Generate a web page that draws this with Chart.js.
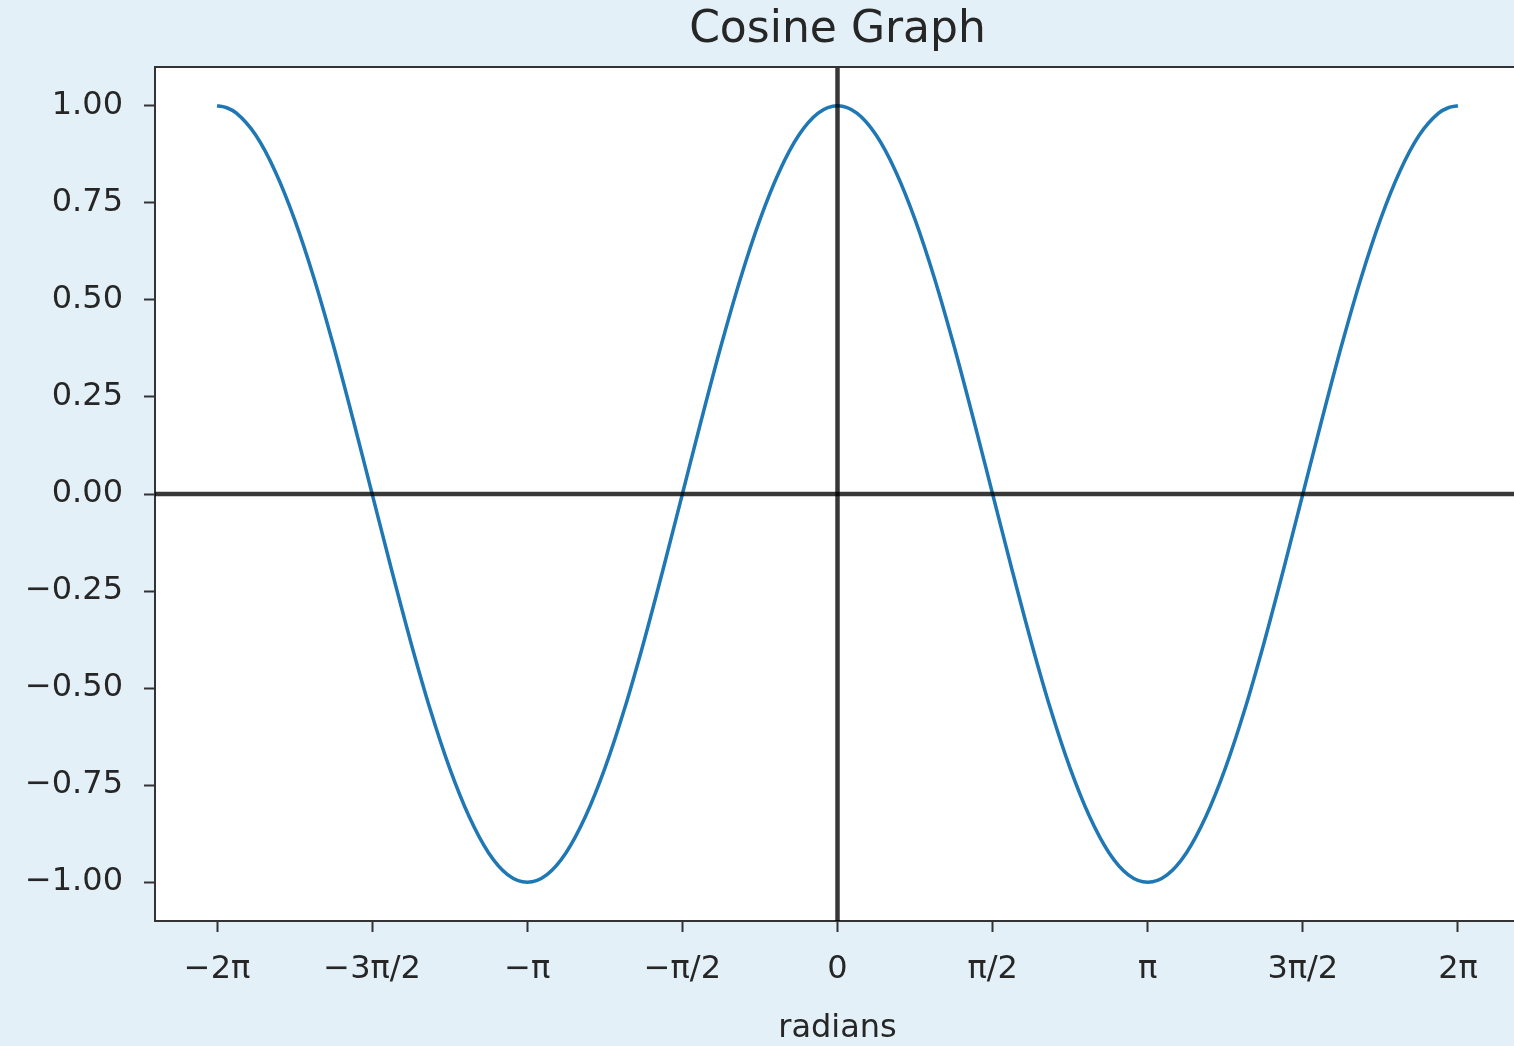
<!DOCTYPE html>
<html>
<head>
<meta charset="utf-8">
<script src="https://cdn.jsdelivr.net/npm/chart.js@4.4.1/dist/chart.umd.min.js"></script>
<style>
  html, body { margin: 0; padding: 0; background: #e3f0f8; overflow: hidden; }
  #wrap { position: absolute; left: 0; top: 0; width: 1520px; height: 1046px; }
</style>
</head>
<body>
<div id="wrap"><canvas id="cosChart" width="1520" height="1046"></canvas></div>
<script>
// x positions in units of pi
const xs = [
  -2, -1.96875, -1.9375, -1.875, -1.8125, -1.75, -1.6875, -1.625, -1.5625,
  -1.5, -1.4375, -1.375, -1.3125, -1.25, -1.1875, -1.125, -1.0625,
  -1, -0.9375, -0.875, -0.8125, -0.75, -0.6875, -0.625, -0.5625,
  -0.5, -0.4375, -0.375, -0.3125, -0.25, -0.1875, -0.125, -0.0625,
  0, 0.0625, 0.125, 0.1875, 0.25, 0.3125, 0.375, 0.4375,
  0.5, 0.5625, 0.625, 0.6875, 0.75, 0.8125, 0.875, 0.9375,
  1, 1.0625, 1.125, 1.1875, 1.25, 1.3125, 1.375, 1.4375,
  1.5, 1.5625, 1.625, 1.6875, 1.75, 1.8125, 1.875, 1.9375, 1.96875, 2
]
const cosValues = [
  1, 0.995, 0.981, 0.924, 0.831, 0.707, 0.556, 0.383, 0.195,
  0, -0.195, -0.383, -0.556, -0.707, -0.831, -0.924, -0.981,
  -1, -0.981, -0.924, -0.831, -0.707, -0.556, -0.383, -0.195,
  0, 0.195, 0.383, 0.556, 0.707, 0.831, 0.924, 0.981,
  1, 0.981, 0.924, 0.831, 0.707, 0.556, 0.383, 0.195,
  0, -0.195, -0.383, -0.556, -0.707, -0.831, -0.924, -0.981,
  -1, -0.981, -0.924, -0.831, -0.707, -0.556, -0.383, -0.195,
  0, 0.195, 0.383, 0.556, 0.707, 0.831, 0.924, 0.981, 0.995, 1
]
const xTickValues = [-2, -1.5, -1, -0.5, 0, 0.5, 1, 1.5, 2]
const xTickLabels = ["\u22122\u03c0", "\u22123\u03c0/2", "\u2212\u03c0", "\u2212\u03c0/2", "0", "\u03c0/2", "\u03c0", "3\u03c0/2", "2\u03c0"]
const yTickValues = [-1, -0.75, -0.5, -0.25, 0, 0.25, 0.5, 0.75, 1]
const titleText = "Cosine Graph"

const FONT = "'DejaVu Sans', sans-serif"
const TEXT = "#262626"
const SPINE = "#333333"

const points = xs.map((x, i) => ({ x: x, y: cosValues[i] }))

// backgrounds, title over the plot area, top/right spines, zero lines above the curve
const framePlugin = {
  id: "frame",
  beforeDraw(chart) {
    const { ctx, chartArea: a } = chart
    ctx.save()
    ctx.fillStyle = "#e3f0f8"
    ctx.fillRect(0, 0, chart.width, chart.height)
    ctx.fillStyle = "#ffffff"
    ctx.fillRect(a.left, a.top, a.right - a.left, a.bottom - a.top)
    ctx.fillStyle = TEXT
    ctx.font = "44px " + FONT
    ctx.textAlign = "center"
    ctx.textBaseline = "middle"
    ctx.fillText(titleText, (a.left + a.right) / 2, 31)
    ctx.restore()
  },
  afterDatasetsDraw(chart) {
    const { ctx, chartArea: a, scales } = chart
    const x0 = scales.x.getPixelForValue(0)
    const y0 = scales.y.getPixelForValue(0)
    ctx.save()
    ctx.strokeStyle = "rgba(0,0,0,0.78)"
    ctx.lineWidth = 4.5
    ctx.beginPath()
    ctx.moveTo(a.left, y0)
    ctx.lineTo(a.right, y0)
    ctx.stroke()
    ctx.beginPath()
    ctx.moveTo(x0, a.top)
    ctx.lineTo(x0, a.bottom)
    ctx.stroke()
    ctx.strokeStyle = SPINE
    ctx.lineWidth = 2
    ctx.beginPath()
    ctx.moveTo(a.left, a.top)
    ctx.lineTo(a.right, a.top)
    ctx.lineTo(a.right, a.bottom)
    ctx.stroke()
    ctx.restore()
  },
}

new Chart(document.getElementById("cosChart"), {
  type: "line",
  data: {
    datasets: [
      {
        data: points,
        borderColor: "#1f77b4",
        borderWidth: 3.5,
        pointRadius: 0,
        cubicInterpolationMode: "monotone",
        fill: false,
      },
    ],
  },
  options: {
    responsive: false,
    animation: false,
    layout: { padding: { top: 67 } },
    plugins: {
      legend: { display: false },
      tooltip: { enabled: false },
      title: { display: false },
    },
    scales: {
      x: {
        type: "linear",
        min: -2.2,
        max: 2.2,
        afterBuildTicks(scale) {
          scale.ticks = xTickValues.map((v) => ({ value: v }))
        },
        afterFit(scale) {
          scale.height = 125
        },
        ticks: {
          color: TEXT,
          font: { family: FONT, size: 32 },
          padding: 18,
          maxRotation: 0,
          autoSkip: false,
          callback: (v) => xTickLabels[xTickValues.indexOf(v)],
        },
        grid: {
          drawOnChartArea: false,
          tickLength: 11,
          tickWidth: 2,
          tickColor: SPINE,
        },
        border: { display: true, color: SPINE, width: 2 },
        title: {
          display: true,
          text: "radians",
          color: TEXT,
          font: { family: FONT, size: 32, lineHeight: 1.1 },
          padding: { top: 0, bottom: 0 },
        },
      },
      y: {
        type: "linear",
        min: -1.1,
        max: 1.1,
        afterBuildTicks(scale) {
          scale.ticks = yTickValues.map((v) => ({ value: v }))
        },
        afterFit(scale) {
          scale.width = 155
        },
        ticks: {
          color: TEXT,
          font: { family: FONT, size: 32 },
          padding: 21,
          callback: (v) => v.toFixed(2).replace("-", "\u2212"),
        },
        grid: {
          drawOnChartArea: false,
          tickLength: 11,
          tickWidth: 2,
          tickColor: SPINE,
        },
        border: { display: true, color: SPINE, width: 2 },
      },
    },
  },
  plugins: [framePlugin],
})
</script>
</body>
</html>
